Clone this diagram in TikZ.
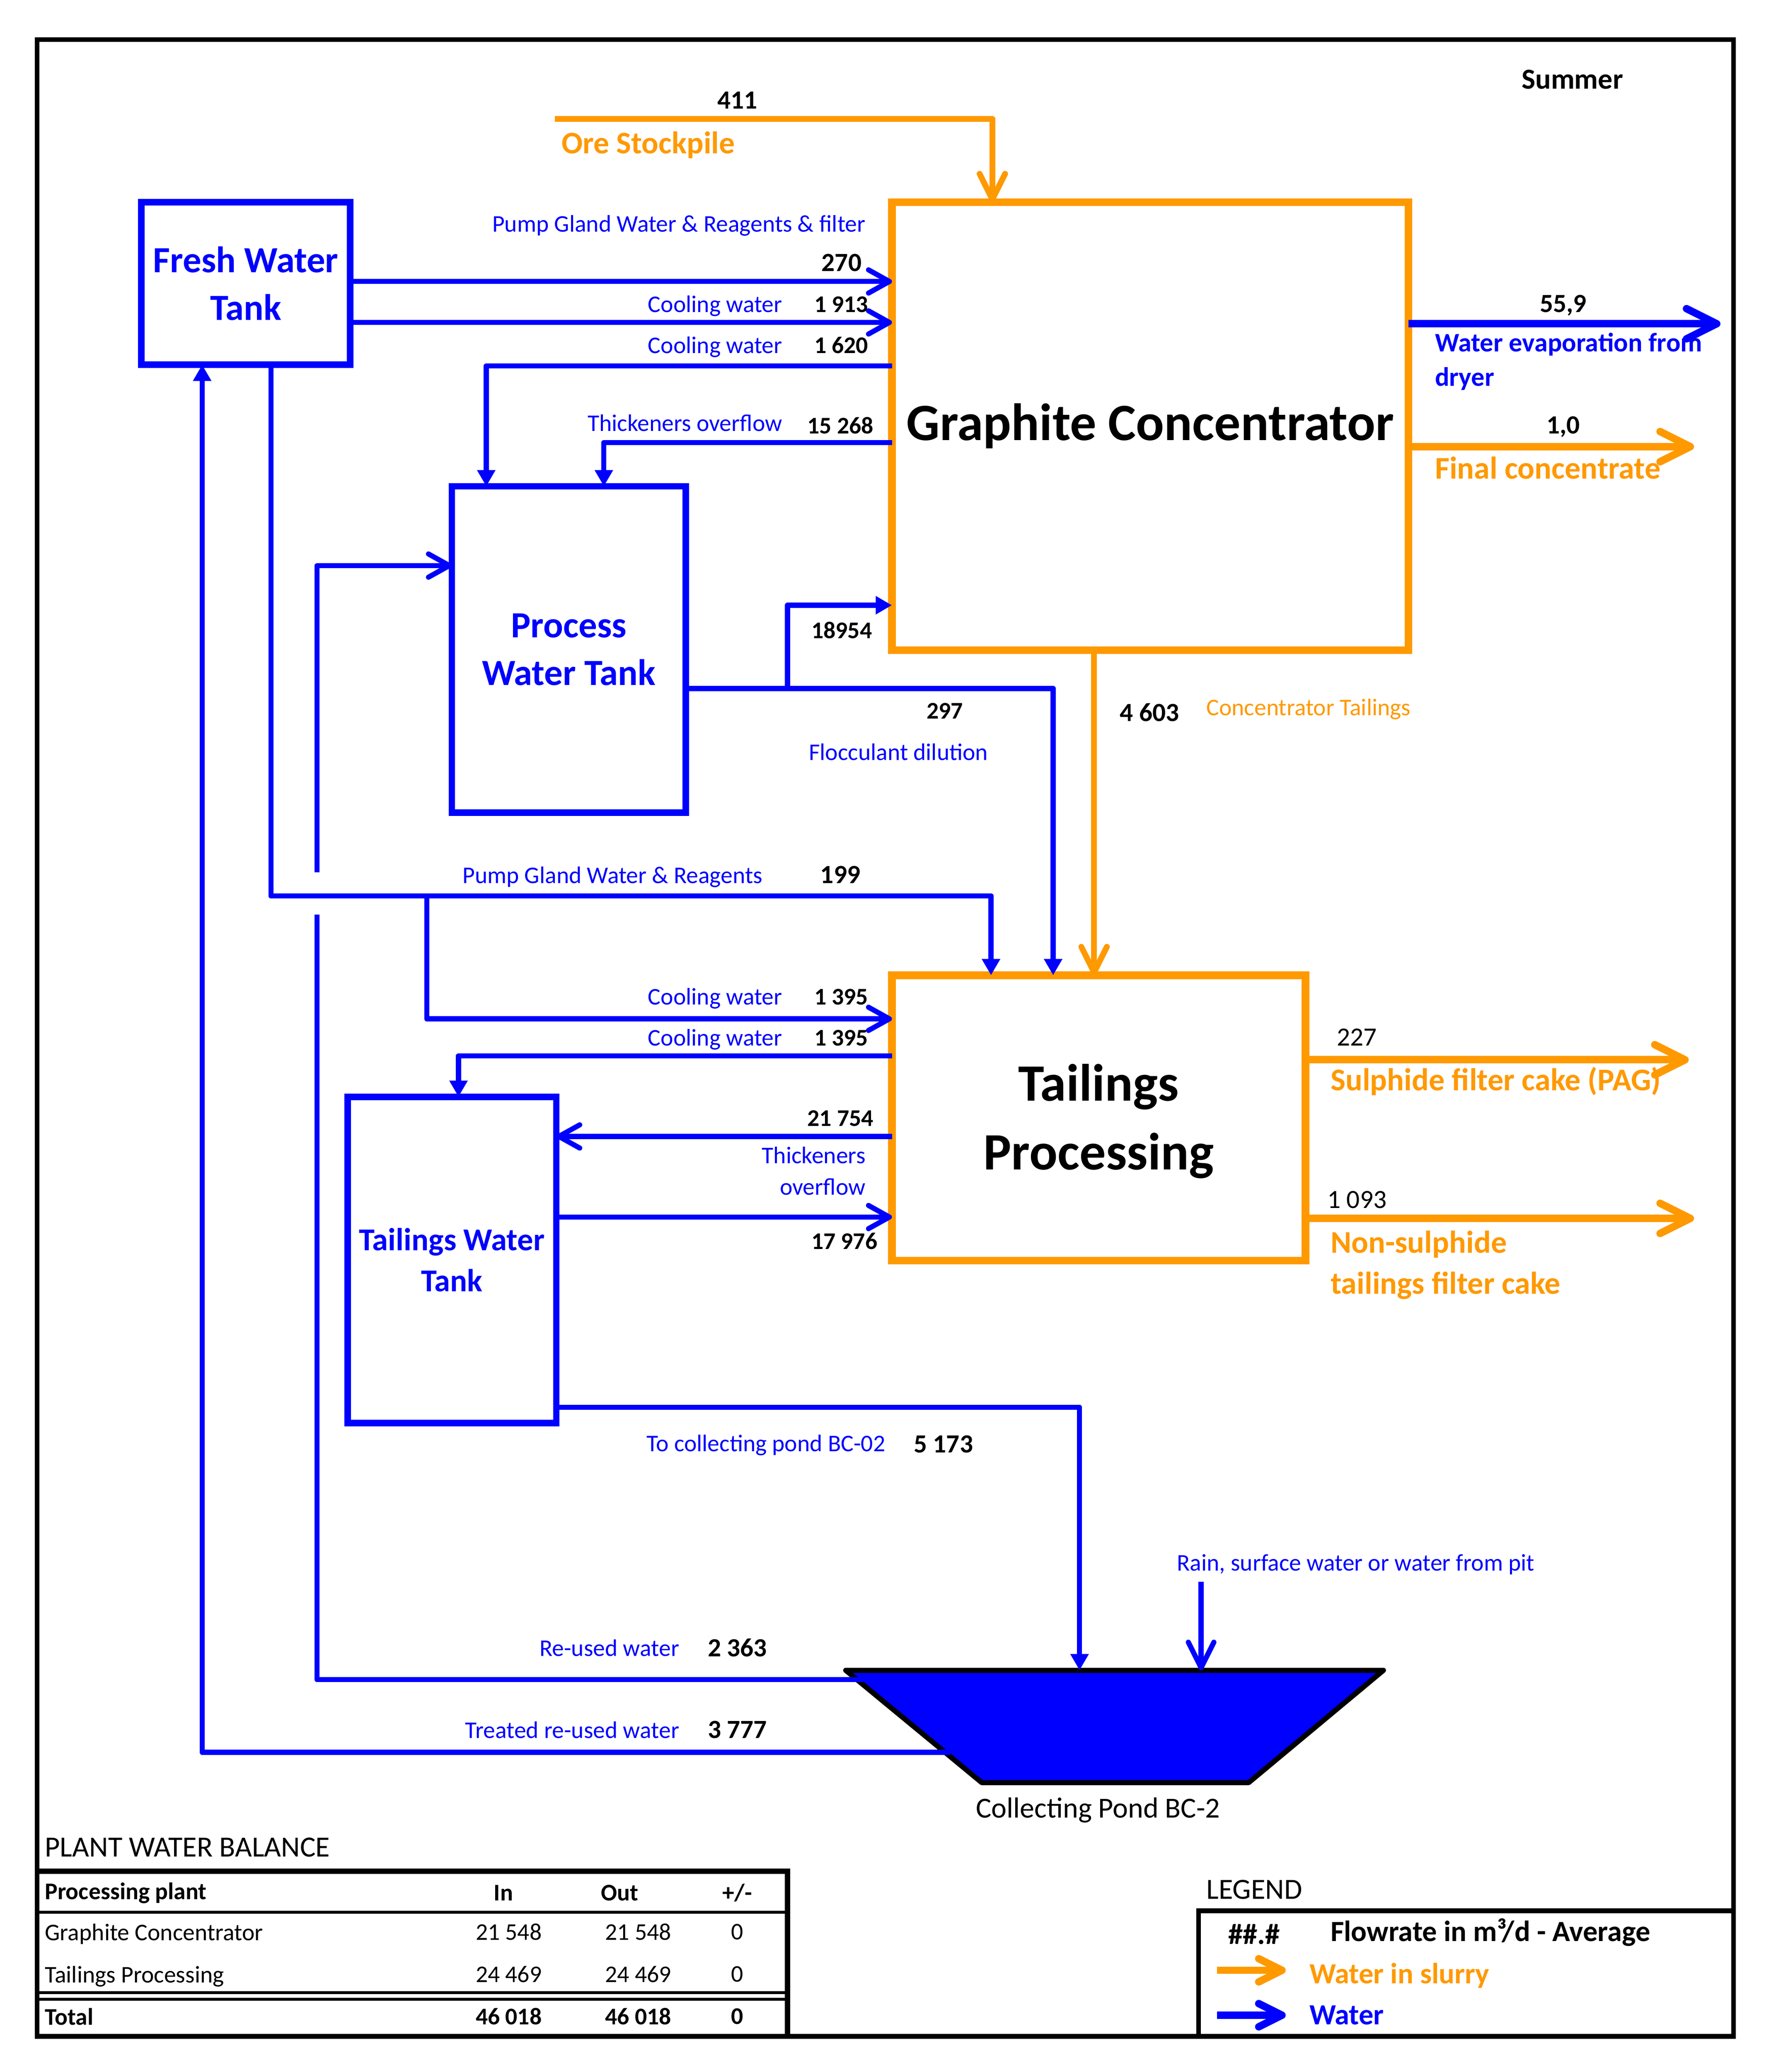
\documentclass[tikz,border=0pt]{standalone}
\usepackage{fontspec}
\setmainfont{Carlito}
\usetikzlibrary{arrows.meta}
\definecolor{wblue}{RGB}{0,0,255}
\definecolor{worange}{RGB}{255,153,0}
\begin{document}
\begin{tikzpicture}[x=0.02cm,y=-0.02cm,
  every node/.style={inner sep=0pt, outer sep=0pt},
  me/.style={anchor=mid east, yshift=-#1}, me/.default=1.2pt,
  mw/.style={anchor=mid west, yshift=-#1}, mw/.default=1.2pt,
  wline/.style={draw=wblue, line width=2.2pt, line join=round},
  oline/.style={draw=worange, line width=2.5pt, line join=round},
  heavyb/.style={draw=wblue, line width=3.2pt},
  heavyo/.style={draw=worange, line width=3.2pt},
  barb/.style={-{Straight Barb[length=9pt,width=10pt,round]}},
  vbarb/.style={-{Straight Barb[length=11pt,width=11pt,round]}},
  bigbarb/.style={-{Straight Barb[length=13pt,width=13pt,round]}},
  legbarb/.style={-{Straight Barb[length=10pt,width=10pt,round]}},
  tri/.style={-{Triangle[length=7pt,width=7.5pt]}},
  wbox/.style={draw=wblue, line width=2.8pt, text=wblue, align=center},
  bigtxt/.style={align=center, font=\fontsize{22.6}{29.5}\selectfont\bfseries},
  obox/.style={draw=worange, line width=3.3pt, bigtxt},
  lbl/.style={text=wblue, font=\fontsize{10.3}{12}\selectfont},
  num/.style={font=\fontsize{10.3}{12}\selectfont\bfseries},
  bnum/.style={font=\fontsize{11.3}{13}\selectfont\bfseries},
  rnum/.style={font=\fontsize{11.3}{13}\selectfont},
  olbl/.style={text=worange, font=\fontsize{13.6}{18}\selectfont\bfseries},
  tbl/.style={font=\fontsize{10.3}{12}\selectfont},
  tblb/.style={font=\fontsize{10.3}{12}\selectfont\bfseries},
  leg/.style={font=\fontsize{12.6}{15}\selectfont\bfseries}
]
\useasboundingbox (0,0) rectangle (1344,1568);
% outer frame
\draw[line width=2pt] (28,30) rectangle (1312,1541);

% boxes
\node[wbox, minimum width=3.16cm, minimum height=2.46cm,
  font=\fontsize{15.9}{20.5}\selectfont\bfseries] (fw) at (186,214.5) {Fresh Water\\Tank};
\node[obox, minimum width=7.82cm, minimum height=6.78cm] (gc) at (870.5,322.5) {Graphite Concentrator};
\node[wbox, minimum width=3.54cm, minimum height=4.94cm,
  font=\fontsize{15.9}{20.5}\selectfont\bfseries] (pw) at (430.5,491.5) {Process\\Water Tank};
\node[obox, minimum width=6.26cm, minimum height=4.32cm] (tp) at (831.5,846) {};
\node[bigtxt] (tptext) at (831.5,848.5) {Tailings\\Processing};
\node[wbox, minimum width=3.16cm, minimum height=4.94cm,
  font=\fontsize{13.7}{17.6}\selectfont\bfseries] (tw) at (342,953.5) {Tailings Water\\Tank};

% pond
\coordinate (pTL) at (640,1264);
\coordinate (pTR) at (1047,1264);
\coordinate (pBR) at (945,1349);
\coordinate (pBL) at (743,1349);
\filldraw[fill=wblue, draw=black, line width=2.2pt, line join=round] (pTL) -- (pTR) -- (pBR) -- (pBL) -- cycle;
\node[font=\fontsize{12.5}{15}\selectfont] (pondlbl) at (831,1370) {Collecting Pond BC-2};

% free-end coordinates
\coordinate (ore) at (420,90);
\coordinate (j1) at (596,521);
\coordinate (j2) at (323,678);
\coordinate (pin) at (817,1264);
\coordinate (rain) at (909,1197);
\coordinate (rainin) at (909,1264);
\coordinate (reuse) at (654,1271);
\coordinate (treat) at (719,1326);
\coordinate (evap) at (1302,245);
\coordinate (fconc) at (1282,338);
\coordinate (pag) at (1278,802);
\coordinate (nonsul) at (1282,922);

% connectors: graphite concentrator
\draw[oline, vbarb] (ore) -| (gc.north -| 751,0);
\draw[wline, barb] (fw.east |- 0,213) -- (gc.west |- 0,213);
\draw[wline, barb] (fw.east |- 0,244) -- (gc.west |- 0,244);
\draw[wline, tri] (gc.west |- 0,277) -| (pw.north -| 368,0);
\draw[wline, tri] (gc.west |- 0,335) -| (pw.north -| 457,0);
\draw[wline, tri] (pw.east |- 0,521) -| (tp.north -| 797,0);
\draw[wline, tri] (j1) |- (gc.west |- 0,458);
\draw[oline, vbarb] (gc.south -| 828,0) -- (tp.north -| 828,0);
\draw[heavyb, bigbarb] (gc.east |- evap) -- (evap);
\draw[heavyo, bigbarb] (gc.east |- fconc) -- (fconc);

% connectors: fresh water to tailings processing
\draw[wline, tri] (fw.south -| 205,0) |- (750,678) -- (tp.north -| 750,0);
\draw[wline, barb] (j2) |- (tp.west |- 0,771);
\draw[wline, tri] (tp.west |- 0,799) -| (tw.north -| 347,0);
\draw[wline, barb] (tp.west |- 0,860) -- (tw.east |- 0,860);
\draw[wline, barb] (tw.east |- 0,921) -- (tp.west |- 0,921);
\draw[heavyo, bigbarb] (tp.east |- pag) -- (pag);
\draw[heavyo, bigbarb] (tp.east |- nonsul) -- (nonsul);

% pond connectors
\draw[wline, tri] (tw.east |- 0,1065) -| (pin);
\draw[wline, vbarb] (rain) -- (rainin);
\draw[wline] (reuse) -| (240,692);
\draw[wline, barb] (240,660) |- (pw.west |- 0,428);
\draw[wline, tri] (treat) -| (fw.south -| 153,0);

% labels
\node[font=\fontsize{12.5}{15}\selectfont\bfseries] (summer) at (1190,60) {Summer};
\node[bnum] (n411) at (558,76) {411};
\node[olbl, font=\fontsize{13.5}{16}\selectfont\bfseries, mw=2.3pt] (orel) at (425,108) {Ore Stockpile};
\node[lbl, me] (l1) at (655,169) {Pump Gland Water \& Reagents \& filter};
\node[bnum, me] (n270) at (652,199) {270};
\node[lbl, me] (l2) at (592,230) {Cooling water};
\node[num, me] (n1913) at (657,230) {1 913};
\node[lbl, me] (l3) at (592,261) {Cooling water};
\node[num, me] (n1620) at (657,261) {1 620};
\node[lbl, me] (l4) at (592,320) {Thickeners overflow};
\node[num, me] (n15268) at (661,322) {15 268};
\node[num] (n18954) at (637,477) {18954};
\node[num] (n297) at (715,538) {297};
\node[lbl] (l5) at (680,569) {Flocculant dilution};
\node[bnum] (n4603) at (870,539) {4 603};
\node[text=worange, font=\fontsize{10.3}{12}\selectfont, mw] (l6) at (913,535) {Concentrator Tailings};
\node[lbl, me] (l7) at (577,662) {Pump Gland Water \& Reagents};
\node[bnum] (n199) at (636,662) {199};
\node[lbl, me] (l8) at (592,754) {Cooling water};
\node[num, me] (n1395a) at (657,754) {1 395};
\node[lbl, me] (l9) at (592,785) {Cooling water};
\node[num, me] (n1395b) at (657,785) {1 395};
\node[num, me] (n21754) at (661,846) {21 754};
\node[lbl, me] (l10) at (655,874) {Thickeners};
\node[lbl, me] (l11) at (655,898) {overflow};
\node[num, me] (n17976) at (664,939) {17 976};
\node[lbl, me] (l12) at (670,1092) {To collecting pond BC-02};
\node[bnum] (n5173) at (714,1093) {5 173};
\node[lbl] (l13) at (1026,1184) {Rain, surface water or water from pit};
\node[lbl, me] (l14) at (514,1247) {Re-used water};
\node[bnum] (n2363) at (558,1247) {2 363};
\node[lbl, me] (l15) at (514,1309) {Treated re-used water};
\node[bnum] (n3777) at (558,1309) {3 777};
\node[bnum] (n559) at (1183,231) {55,9};
\node[text=wblue, font=\fontsize{11.5}{14}\selectfont\bfseries, mw=1.7pt] (l16) at (1086,259) {Water evaporation from};
\node[text=wblue, font=\fontsize{11.5}{14}\selectfont\bfseries, mw=1.7pt] (l17) at (1086,285) {dryer};
\node[bnum] (n10) at (1183,323) {1,0};
\node[olbl, mw=2.3pt] (l18) at (1086,354) {Final concentrate};
\node[rnum] (n227) at (1027,785) {227};
\node[olbl, mw=2.3pt] (l19) at (1007,817) {Sulphide filter cake (PAG)};
\node[rnum] (n1093) at (1027,908) {1 093};
\node[olbl, mw=2.3pt] (l20) at (1007,940) {Non-sulphide};
\node[olbl, mw=2.3pt] (l21) at (1007,971) {tailings filter cake};

% plant water balance table
\node[font=\fontsize{12.6}{15}\selectfont, mw=1.7pt] (tt) at (34,1398) {PLANT WATER BALANCE};
\draw[line width=2.2pt] (28,1416) -- (596,1416) -- (596,1541);
\draw[line width=1.2pt] (28,1447) -- (596,1447);
\draw[line width=1.2pt] (28,1508) -- (596,1508);
\draw[line width=1.2pt] (28,1513) -- (596,1513);
\node[tblb, mw] (h1) at (34,1431) {Processing plant};
\node[tblb, yshift=-0.8pt] (h2) at (381,1431) {In};
\node[tblb, yshift=-0.8pt] (h3) at (469,1431) {Out};
\node[tblb, yshift=-0.8pt] (h4) at (558,1431) {+/-};
\node[tbl, mw] (r1a) at (34,1462) {Graphite Concentrator};
\node[tbl] (r1b) at (385,1462) {21 548};
\node[tbl] (r1c) at (483,1462) {21 548};
\node[tbl] (r1d) at (558,1462) {0};
\node[tbl, mw] (r2a) at (34,1494) {Tailings Processing};
\node[tbl] (r2b) at (385,1494) {24 469};
\node[tbl] (r2c) at (483,1494) {24 469};
\node[tbl] (r2d) at (558,1494) {0};
\node[tblb, mw] (r3a) at (34,1526) {Total};
\node[tblb] (r3b) at (385,1526) {46 018};
\node[tblb] (r3c) at (483,1526) {46 018};
\node[tblb] (r3d) at (558,1526) {0};

% legend
\node[font=\fontsize{12.6}{15}\selectfont, mw=1.7pt] (lg) at (913,1430) {LEGEND};
\draw[line width=2pt] (1312,1446) -- (907,1446) -- (907,1541);
\node[leg, yshift=-1pt] (lg1) at (949,1462) {\#\#.\#};
\node[leg, mw=1.7pt] (lg2) at (1007,1462) {Flowrate in m³/d - Average};
\coordinate (la1) at (921,1491);
\coordinate (la2) at (973,1491);
\coordinate (lb1) at (921,1525);
\coordinate (lb2) at (973,1525);
\draw[heavyo, legbarb] (la1) -- (la2);
\draw[heavyb, legbarb] (lb1) -- (lb2);
\node[leg, text=worange, mw=1.7pt] (lg3) at (991,1494) {Water in slurry};
\node[leg, text=wblue, mw=1.7pt] (lg4) at (991,1525) {Water};
\end{tikzpicture}
\end{document}
